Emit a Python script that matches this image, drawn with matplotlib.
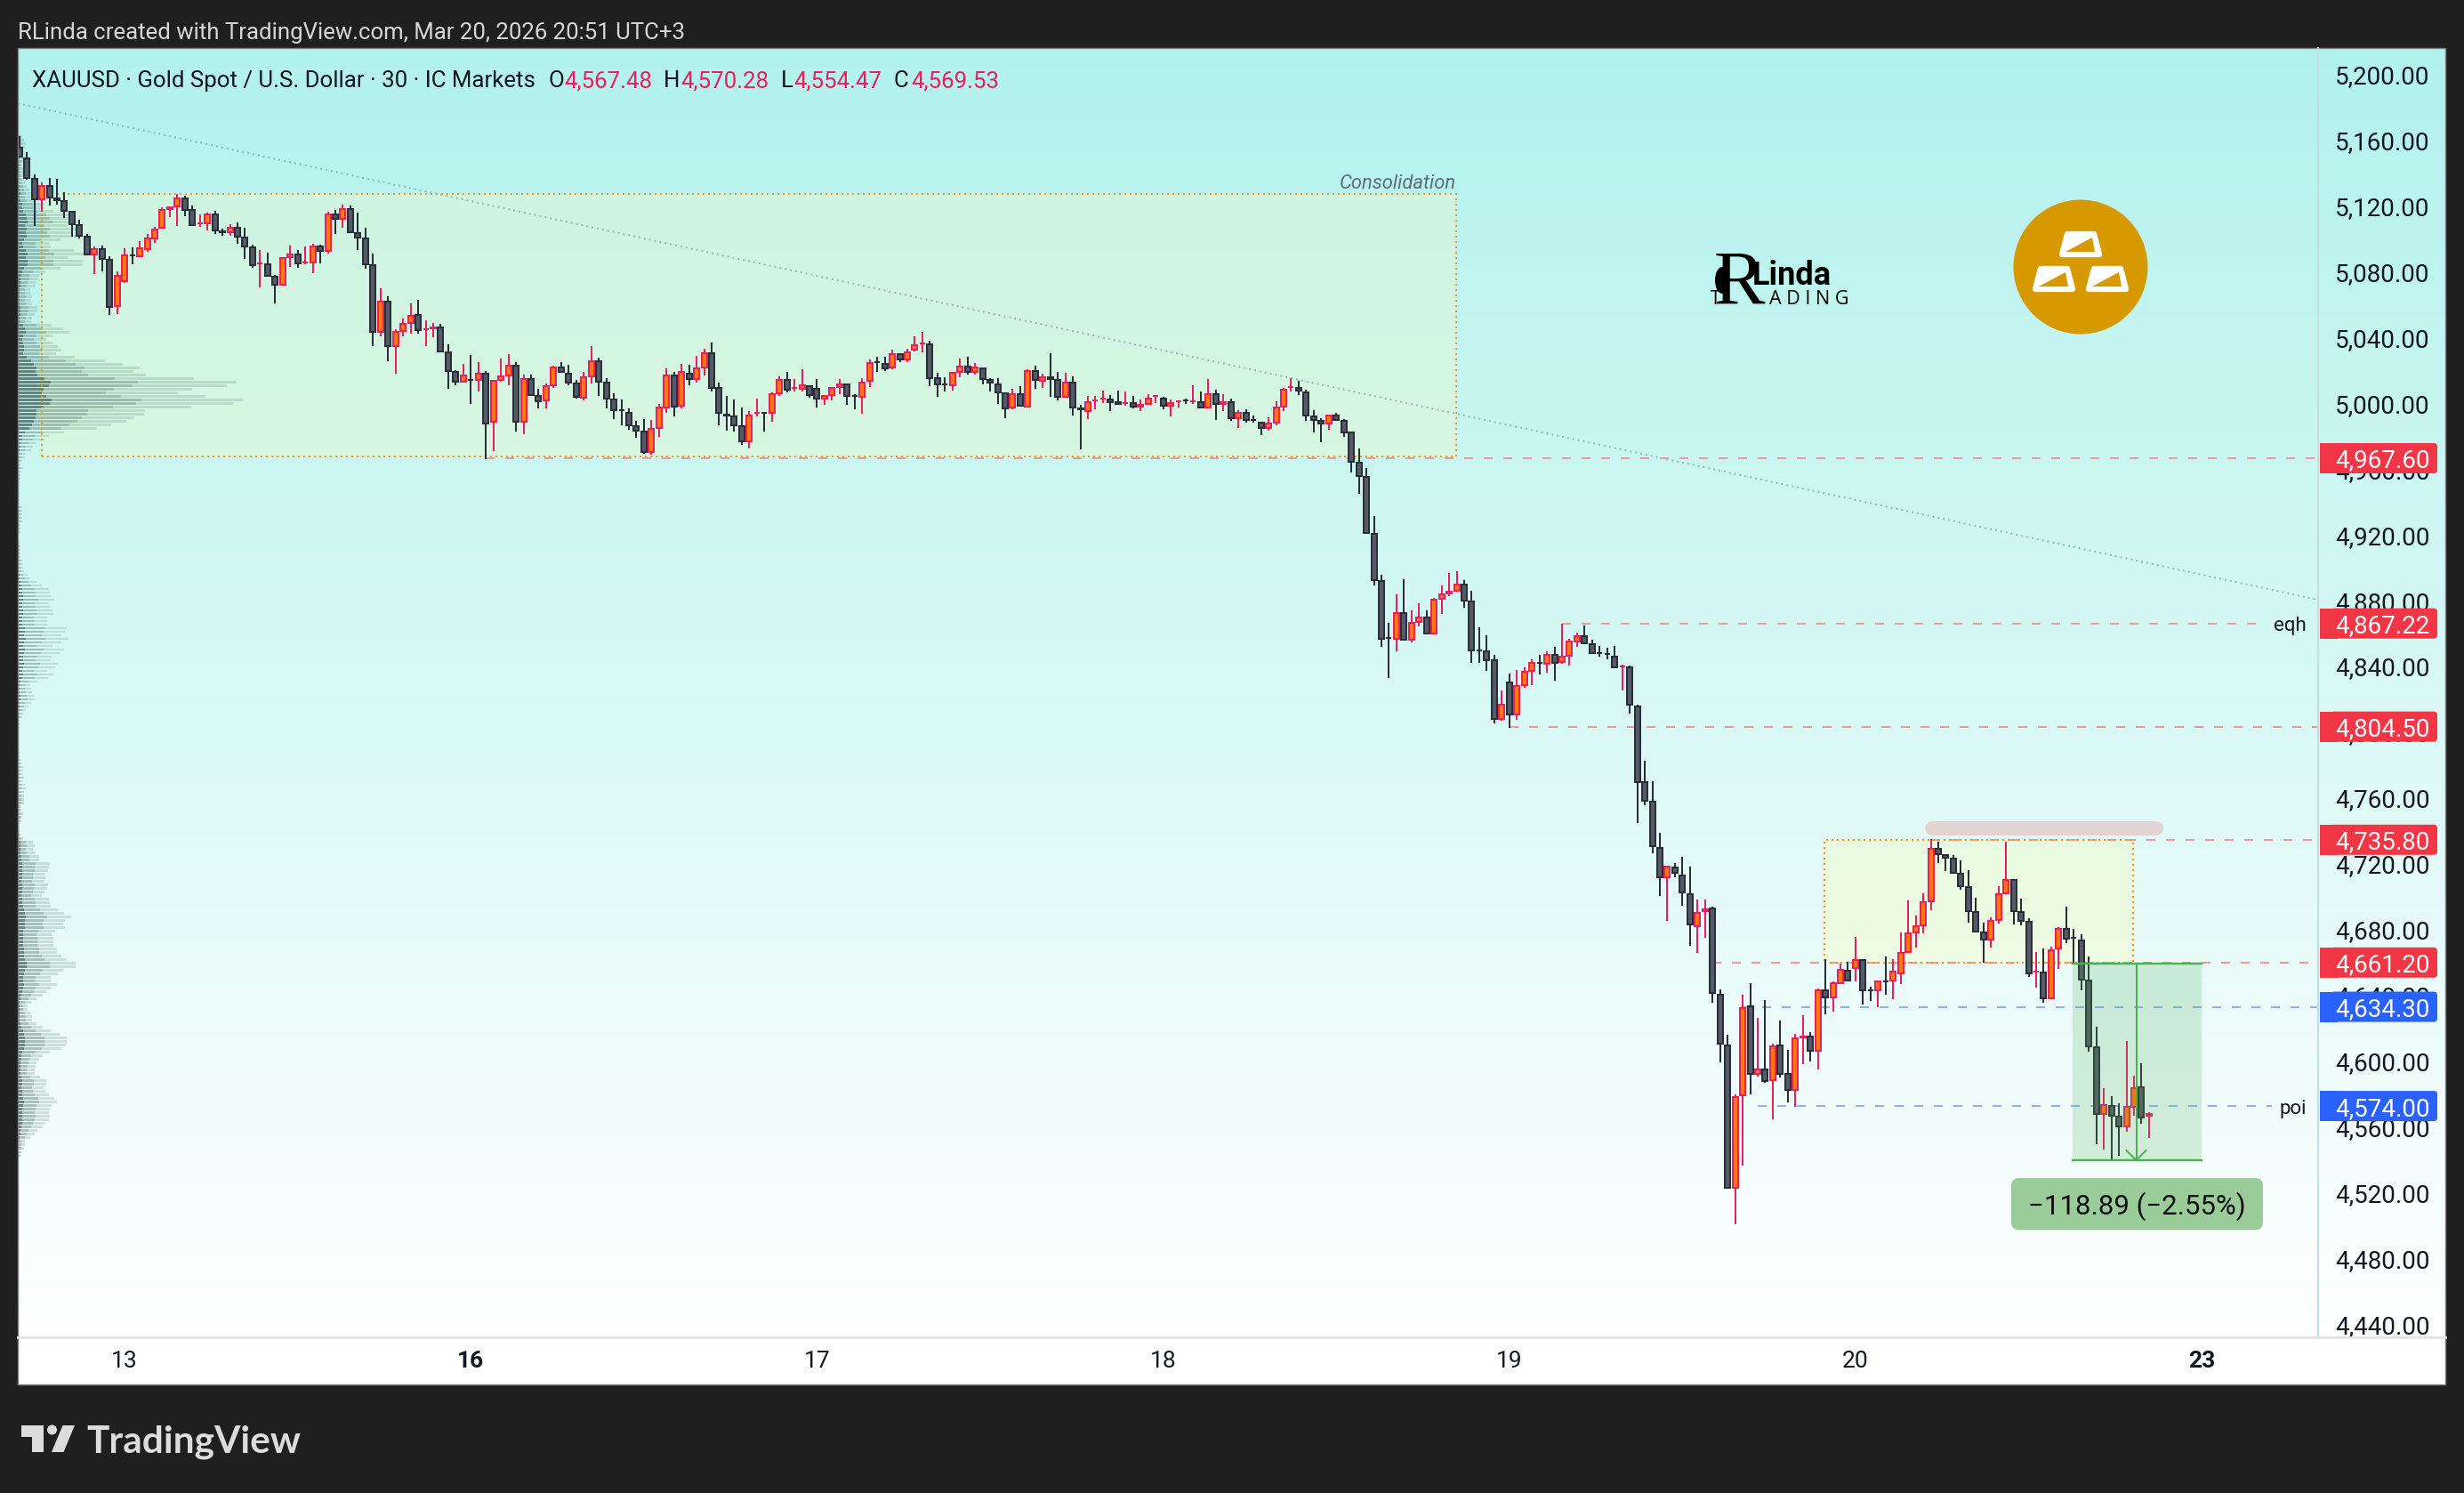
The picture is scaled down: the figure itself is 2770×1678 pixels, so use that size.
import numpy as np
import matplotlib
matplotlib.use("Agg")
import matplotlib.pyplot as plt
from matplotlib.patches import Rectangle, FancyBboxPatch, Polygon, Circle, Ellipse
from matplotlib.transforms import ScaledTranslation

plt.rcParams['font.family'] = ['Roboto', 'DejaVu Sans']

# 30 min candles
opens = [5156.8,5150.1,5137.8,5124.5,5133.5,5126.0,5124.3,5117.8,5109.7,5102.7,
5090.8,5095.1,5088.6,5059.5,5074.6,5091.3,5089.7,5094.0,5100.5,5107.0,
5118.4,5120.0,5126.0,5118.9,5109.7,5109.7,5116.2,5106.0,5104.3,5108.1,
5102.2,5096.2,5085.4,5086.0,5078.4,5072.4,5089.2,5091.9,5086.0,5086.0,
5096.8,5093.0,5116.2,5112.4,5119.5,5104.9,5101.6,5085.4,5043.8,5063.2,
5035.1,5044.3,5049.2,5055.1,5045.4,5046.0,5047.6,5032.4,5020.5,5013.5,
5015.7,5014.6,5019.5,4989.2,5014.6,5017.3,5024.3,4989.2,5016.2,5005.9,
5002.2,5011.4,5023.2,5019.5,5013.5,5003.8,5016.8,5027.0,5014.1,5003.8,
4997.3,4995.7,4987.6,4984.3,4970.8,4985.4,4997.8,5018.4,4998.9,5019.5,
5015.1,5022.2,5031.9,5010.8,4994.6,4993.5,4987.6,4977.3,4994.6,4995.7,
4994.6,5006.5,5015.7,5009.7,5009.2,5011.9,5010.3,5003.2,5005.4,5010.3,
5013.0,5005.9,5004.3,5014.1,5026.5,5025.4,5022.2,5031.4,5027.0,5033.0,
5036.8,5037.3,5016.8,5013.0,5011.4,5019.5,5023.8,5019.5,5022.7,5015.7,
5013.0,5007.6,4997.8,5007.0,4998.4,5021.1,5014.1,5017.3,5015.7,5004.3,
5014.1,4998.4,4995.7,5002.2,5003.2,5003.8,5002.2,5000.5,5001.6,4998.4,
5000.0,5004.9,5004.3,4998.9,5001.6,5002.7,5001.6,5002.2,4997.8,5007.0,
5000.0,5002.2,4991.4,4995.7,4991.4,4989.7,4985.4,4988.7,4998.4,5010.3,
5010.8,5008.1,4993.5,4990.8,4988.1,4994.1,4990.8,4983.8,4965.4,4956.8,
4922.2,4893.5,4858.9,4857.3,4874.1,4856.8,4867.6,4871.3,4860.5,4881.6,
4884.9,4886.5,4891.3,4881.1,4851.4,4850.8,4845.4,4808.6,4831.9,4811.4,
4829.2,4837.8,4843.8,4842.2,4848.7,4843.2,4847.0,4855.7,4860.0,4855.1,
4849.7,4848.7,4847.6,4840.5,4841.1,4817.3,4771.4,4759.5,4731.5,4712.5,
4719.5,4714.6,4703.2,4682.7,4691.9,4694.6,4642.0,4611.4,4523.8,4580.0,
4635.1,4593.0,4596.8,4589.2,4611.4,4594.0,4583.2,4615.1,4616.8,4607.0,
4644.9,4639.5,4648.1,4656.8,4657.3,4663.2,4644.9,4643.8,4650.3,4649.7,
4654.1,4667.0,4678.9,4683.2,4697.8,4730.8,4727.0,4724.9,4715.7,4707.6,
4692.4,4680.0,4674.6,4686.5,4702.7,4711.9,4692.4,4686.5,4655.1,4655.7,
4638.9,4669.2,4682.2,4676.8,4675.1,4650.8,4610.3,4568.7,4574.6,4568.1,
4561.1,4573.0,4586.0,4567.48]
highs = [5163.1,5153.5,5140.0,5135.1,5137.8,5137.3,5129.2,5117.8,5112.4,5103.8,
5096.2,5096.8,5090.3,5081.1,5095.1,5095.7,5099.5,5103.8,5108.1,5120.0,
5120.5,5128.1,5127.0,5121.1,5115.7,5116.8,5117.8,5107.0,5109.7,5110.8,
5107.6,5097.3,5094.0,5092.4,5078.9,5089.7,5096.8,5094.0,5096.2,5097.8,
5097.3,5117.3,5118.4,5121.6,5121.1,5116.8,5107.6,5091.9,5070.8,5066.0,
5046.0,5052.4,5061.6,5063.8,5051.4,5049.7,5049.2,5036.8,5021.1,5024.9,
5030.3,5026.0,5020.5,5015.1,5028.1,5030.8,5026.0,5018.4,5018.4,5009.7,
5013.0,5023.8,5026.0,5024.3,5015.1,5020.0,5035.7,5028.7,5016.2,5007.0,
5003.2,4997.8,4990.3,4991.4,4990.8,5000.5,5022.2,5020.0,5024.9,5024.3,
5029.7,5034.1,5037.8,5013.5,5005.4,5003.2,4998.4,4996.2,5003.8,4995.7,
5007.6,5017.3,5020.0,5015.7,5021.6,5011.9,5015.7,5005.9,5010.8,5015.7,
5013.0,5006.5,5016.2,5027.6,5029.2,5029.2,5033.5,5031.4,5034.1,5041.6,
5044.3,5038.9,5019.5,5016.8,5020.0,5028.1,5029.2,5025.4,5022.7,5016.2,
5016.2,5007.6,5009.7,5011.4,5021.6,5023.8,5018.9,5031.4,5020.0,5019.5,
5017.3,5000.0,5005.4,5005.4,5008.7,5005.9,5008.7,5008.1,5005.4,5003.2,
5006.5,5005.9,5004.9,5003.2,5002.7,5003.8,5011.9,5008.1,5015.7,5009.2,
5006.5,5003.8,4996.8,4997.3,4993.5,4989.7,4992.4,5002.2,5010.3,5016.2,
5014.6,5009.2,4996.8,4991.9,4994.0,4995.1,4991.3,4983.8,4973.5,4961.6,
4932.4,4896.8,4867.6,4884.9,4894.0,4875.1,4879.5,4875.1,4882.7,4890.3,
4897.8,4898.9,4893.5,4887.0,4864.9,4860.0,4848.1,4826.5,4836.8,4838.9,
4840.5,4845.4,4848.1,4850.3,4853.0,4867.0,4857.8,4861.6,4865.9,4857.3,
4853.5,4852.4,4853.5,4842.2,4841.6,4817.8,4783.8,4771.4,4740.2,4720.0,
4721.6,4725.4,4719.5,4699.5,4699.5,4695.1,4644.9,4617.3,4581.1,4641.6,
4648.6,4627.6,4638.4,4611.9,4626.0,4608.1,4617.8,4629.2,4618.9,4645.4,
4663.2,4649.7,4660.5,4661.6,4676.8,4663.2,4646.5,4650.3,4664.9,4663.2,
4679.5,4698.9,4689.7,4703.2,4736.0,4734.6,4727.0,4726.5,4723.2,4717.3,
4700.5,4685.4,4688.7,4707.6,4734.6,4711.9,4700.0,4688.1,4667.6,4669.7,
4670.8,4682.7,4695.1,4681.6,4678.4,4664.9,4622.2,4584.9,4580.0,4575.7,
4613.5,4592.4,4600.0,4570.28]
lows = [5150.1,5136.9,5108.6,5117.6,5121.1,5121.6,5113.5,5102.2,5101.1,5090.8,
5079.5,5081.1,5054.6,5055.1,5074.0,5085.4,5089.7,5093.0,5098.4,5107.0,
5114.0,5108.6,5114.6,5108.6,5108.1,5106.0,5103.8,5102.7,5102.7,5097.8,
5088.6,5083.2,5071.3,5077.8,5061.6,5072.4,5083.8,5083.2,5085.4,5080.0,
5086.0,5091.9,5103.8,5107.6,5104.3,5094.0,5082.7,5035.7,5041.6,5026.5,
5018.9,5041.6,5043.2,5043.2,5035.7,5041.1,5031.9,5009.7,5011.9,5013.5,
5000.5,5008.1,4967.0,4971.9,5014.1,5011.9,4983.8,4982.2,5005.4,4997.8,
4997.8,5010.3,5019.5,5011.9,5003.8,5002.7,5013.0,5005.4,4997.8,4991.3,
4987.6,4984.9,4980.0,4970.3,4969.7,4980.5,4995.1,4993.0,4997.8,5011.9,
5013.5,5017.8,5008.1,4987.6,4984.3,4983.8,4975.7,4973.5,4993.0,4983.8,
4989.7,5005.4,5007.6,5008.1,5008.1,5004.3,4998.4,5000.0,5002.7,5006.5,
5000.0,4997.3,4994.6,5010.8,5020.0,5020.5,5021.6,5026.0,5026.0,5032.4,
5031.9,5011.4,5004.9,5008.1,5008.7,5016.8,5018.4,5018.4,5012.4,5008.1,
5000.5,4991.9,4997.3,4998.9,4998.4,5009.7,5010.3,5004.9,5002.7,5004.3,
4993.5,4973.0,4991.4,4997.3,5001.1,4996.2,5000.0,4999.5,4997.8,4996.2,
5000.0,5001.1,4997.3,4993.0,4998.4,5000.5,5000.5,4997.8,4997.8,4990.8,
4996.2,4990.3,4986.0,4989.2,4989.2,4981.6,4984.3,4987.6,4996.2,5008.1,
5005.9,4990.3,4983.3,4977.3,4984.9,4990.3,4980.5,4958.9,4945.9,4921.6,
4890.3,4853.0,4834.1,4850.3,4856.8,4855.7,4865.4,4860.5,4860.5,4873.0,
4883.8,4886.5,4876.8,4843.2,4843.2,4838.4,4806.5,4808.1,4803.8,4808.6,
4828.1,4829.7,4836.2,4837.3,4832.4,4842.7,4841.6,4853.0,4854.6,4848.7,
4847.0,4845.4,4840.0,4826.5,4812.4,4745.9,4756.8,4727.6,4701.6,4686.5,
4713.0,4695.7,4671.6,4667.0,4676.4,4636.8,4600.5,4523.8,4502.2,4537.8,
4581.1,4591.9,4588.1,4566.0,4591.4,4576.2,4573.5,4599.5,4601.1,4596.2,
4629.7,4631.4,4648.1,4649.7,4649.7,4635.7,4637.8,4634.0,4641.6,4638.9,
4648.1,4667.0,4670.3,4678.9,4693.0,4721.6,4716.8,4715.1,4705.4,4685.4,
4679.5,4661.1,4670.3,4684.9,4702.7,4684.3,4683.8,4652.4,4645.9,4636.8,
4638.9,4657.3,4673.0,4661.1,4644.3,4607.0,4550.8,4547.6,4541.1,4543.8,
4558.4,4568.1,4563.2,4554.47]
closes = [5150.1,5137.5,5124.5,5133.5,5125.6,5123.8,5117.3,5109.4,5102.2,5090.8,
5095.1,5088.1,5058.9,5078.9,5091.3,5090.3,5095.7,5101.6,5107.0,5118.9,
5120.5,5126.0,5117.8,5108.6,5110.8,5116.2,5105.4,5104.3,5108.1,5101.6,
5095.7,5084.3,5086.5,5077.8,5072.4,5089.7,5091.9,5085.4,5087.0,5096.8,
5093.0,5116.2,5112.4,5119.5,5104.3,5101.1,5084.9,5043.8,5063.2,5035.1,
5044.9,5049.7,5054.6,5044.9,5046.5,5047.6,5031.9,5020.0,5013.5,5018.4,
5014.6,5019.5,4988.1,5015.1,5017.8,5024.3,4989.2,5016.2,5005.4,5001.6,
5011.9,5023.2,5019.5,5013.0,5004.3,5017.3,5027.0,5013.5,5003.2,4996.2,
4996.2,4987.0,4983.8,4970.8,4985.9,4998.9,5018.4,4998.4,5020.5,5015.1,
5022.7,5031.9,5009.7,4994.6,4993.0,4987.0,4977.3,4994.0,4995.7,4994.6,
5007.0,5015.7,5008.7,5010.8,5012.4,5005.4,5003.2,5005.9,5010.8,5013.0,
5004.9,5004.9,5014.1,5026.0,5025.4,5021.6,5031.4,5027.0,5032.4,5036.8,
5037.8,5015.7,5011.9,5011.9,5020.0,5023.8,5019.5,5023.2,5015.1,5013.0,
5007.0,4997.3,5007.0,4998.9,5021.1,5014.6,5017.3,5015.1,5004.3,5014.1,
4997.8,4996.8,5002.2,5003.2,5004.3,5001.1,5000.0,5001.6,4998.4,5000.5,
5004.3,5005.9,4998.9,5001.6,5002.7,5002.2,5002.7,4997.8,5007.0,5000.0,
5002.2,4991.4,4995.7,4990.3,4990.3,4985.4,4989.2,4998.9,5009.7,5011.4,
5008.1,4993.0,4990.3,4988.1,4994.0,4990.3,4982.7,4964.9,4956.2,4921.6,
4893.0,4857.3,4857.8,4874.1,4856.8,4868.1,4871.3,4860.5,4882.2,4885.4,
4887.0,4891.3,4880.5,4850.3,4850.3,4844.3,4808.6,4818.4,4811.4,4829.7,
4838.4,4843.8,4842.7,4848.7,4842.7,4847.6,4856.8,4860.0,4854.6,4848.7,
4848.7,4848.1,4840.0,4841.6,4817.3,4770.3,4758.9,4731.5,4712.5,4720.0,
4715.1,4703.2,4683.8,4691.9,4694.2,4642.0,4611.4,4523.8,4580.0,4634.0,
4593.0,4596.8,4588.6,4610.8,4593.0,4583.2,4615.7,4616.8,4607.0,4644.9,
4639.5,4649.2,4657.3,4649.7,4663.2,4643.8,4643.8,4650.3,4649.2,4656.2,
4667.6,4679.5,4683.8,4698.4,4730.8,4726.5,4724.3,4715.1,4707.0,4691.9,
4679.5,4674.6,4687.0,4703.2,4711.9,4691.9,4685.9,4654.1,4656.2,4638.9,
4669.2,4682.2,4675.1,4675.7,4650.3,4609.7,4568.7,4575.1,4567.6,4561.1,
4574.0,4585.4,4566.5,4569.53]

# volume profile, one row per price level from the top down
profile_top = 5163.1
profile_step = 2.165
profile_vol = [5,7,9,8,5,5,6,7,5,6,6,7,7,8,10,13,17,15,18,30,30,40,59,65,70,55,65,60,65,48,36,37,63,74,57,73,73,48,31,24,23,20,
19,14,15,16,15,16,22,22,19,16,15,38,51,58,39,32,39,45,49,43,64,98,118,137,130,144,198,246,235,196,180,211,253,242,195,143,142,130,122,105,
89,52,35,30,21,17,15,9,8,5,3,6,4,3,3,2,2,2,2,2,2,
2,5,5,5,5,5,3,3,3,1,1,2,3,3,3,3,5,6,6,7,11,14,21,27,35,36,37,41,35,36,39,40,33,33,33,55,53,49,57,49,39,52,48,38,37,45,42,33,40,34,
22,14,15,16,18,20,15,12,9,6,5,2,2,2,2,1,1,2,2,2,2,2,4,5,6,6,6,7,6,8,9,7,7,7,7,3,4,6,5,4,2,2,2,3,6,17,19,17,19,24,24,
36,35,34,30,31,29,34,33,30,27,35,36,37,45,52,60,53,51,53,42,38,40,40,40,44,44,49,54,65,65,51,45,37,37,44,37,32,28,21,15,
11,11,14,16,16,21,28,37,47,55,55,54,49,36,28,24,21,20,19,19,25,32,32,29,31,35,41,44,38,36,35,36,35,31,28,22,19,14,8,8,7,5,4,1]

price_ticks = list(range(4440, 5201, 40))
day_ticks = [14, 60, 106, 152, 198, 244, 290]
day_labels = ['13', '16', '17', '18', '19', '20', '23']
bold_days = ['16', '23']

red_levels = [4967.60, 4867.22, 4804.50, 4735.80, 4661.20]
red_starts = [62, 205, 198, 254, 225]
blue_levels = [4634.30, 4574.00]
blue_starts = [229, 231]

W, H = 2770, 1678
PX, PR, PT, PB = 20, 2606, 54, 1503   # plot area
PANEL_R, PANEL_B = 2749, 1556

fig = plt.figure(figsize=(W / 100, H / 100), dpi=100, facecolor='#1f1f1f')

def box(x0, y0, x1, y1):
    return [x0 / W, 1 - y1 / H, (x1 - x0) / W, (y1 - y0) / H]

# background
bg = fig.add_axes(box(PX, PT, PANEL_R, PANEL_B), zorder=0)
bg.axis('off')
grad = np.linspace(0, 1, 400).reshape(-1, 1, 1)
top_col = np.array([178, 242, 237]) / 255
grad_img = top_col * (1 - grad) + np.ones(3) * grad
bg.imshow(grad_img, extent=[PX, PANEL_R, PB, PT], aspect='auto', zorder=0)
bg.add_patch(Rectangle((PX, PB), PANEL_R - PX, PANEL_B - PB, color='white', zorder=1))
bg.set_xlim(PX, PANEL_R)
bg.set_ylim(PANEL_B, PT)

# main chart
ax = fig.add_axes(box(PX, PT, PR, PB), zorder=1)
ax.patch.set_alpha(0)
ax.set_xlim(-0.2, 305.47)
ax.set_ylim(4433.5, 5216.8)
for s in ax.spines.values():
    s.set_visible(False)
ax.yaxis.tick_right()
ax.set_yticks(price_ticks)
ax.set_yticklabels([f'{v:,.2f}' for v in price_ticks], fontsize=20, color='#131722')
ax.set_xticks(day_ticks)
ax.set_xticklabels(day_labels, fontsize=19, color='#131722')
for lab in ax.get_xticklabels():
    if lab.get_text() in bold_days:
        lab.set_fontweight('bold')
ax.tick_params(axis='y', length=0, pad=13.5)
ax.tick_params(axis='x', length=0, pad=11)
nudge = ScaledTranslation(0, 2 / 100, fig.dpi_scale_trans)
for lab in ax.get_yticklabels():
    lab.set_transform(lab.get_transform() + nudge)

span = ax.get_xlim()[1] - ax.get_xlim()[0]
bar_px = (PR - PX) / span     # pixels for one bar
lw2 = 1.44                    # 2 px line

# volume profile
levels = profile_top - profile_step * np.arange(len(profile_vol))
vol = np.array(profile_vol) / bar_px
x0 = ax.get_xlim()[0]
row_h = 1.35
ax.barh(levels, vol, left=x0, height=row_h, color='#7f9c93', alpha=0.3, lw=0, zorder=1.2)
ax.barh(levels, vol * 0.55, left=x0, height=row_h, color='#6f8f85', alpha=0.38, lw=0, zorder=1.3)
ax.barh(levels, vol * 0.15, left=x0, height=row_h, color='#3f5f5c', alpha=0.6, lw=0, zorder=1.4)

# zones
ax.add_patch(Rectangle((3.0, 4968.6), 187.9, 159.5, facecolor='#fafabf', alpha=0.3, lw=0, zorder=1.1))
ax.add_patch(Rectangle((3.0, 4968.6), 187.9, 159.5, fill=False, edgecolor='#ff9800', lw=lw2,
                       linestyle=(0, (1, 2)), zorder=1.6))
ax.add_patch(Rectangle((239.9, 4661.1), 41.0, 74.5, facecolor='#ffffa0', alpha=0.25, lw=0, zorder=1.1))
ax.add_patch(Rectangle((239.9, 4661.1), 41.0, 74.5, fill=False, edgecolor='#ff9800', lw=lw2,
                       linestyle=(0, (1, 2)), zorder=2.3))
ax.plot([254.2, 283.9], [4742.7, 4742.7], color='#e3d3d5', lw=11.5, solid_capstyle='round', zorder=1.5)

# trend line
ax.plot([-0.2, 305.47], [5183.2, 4881.6], color='#5f8a8b', alpha=0.55, lw=lw2,
        linestyle=(0, (1, 2)), zorder=1.5)

# price lines
for lev, st in zip(red_levels, red_starts):
    end = 297.5 if lev == 4867.22 else 305.47
    ax.plot([st, end], [lev, lev], color='#ea98a1', lw=lw2, linestyle=(0, (5, 6)), zorder=1.7, snap=True)
for lev, st in zip(blue_levels, blue_starts):
    end = 299.3 if lev == 4574.00 else 305.47
    ax.plot([st, end], [lev, lev], color='#8fb1fb', lw=lw2, linestyle=(0, (5, 6)), zorder=1.7, snap=True)

# candles
o = np.array(opens)
h = np.array(highs)
l = np.array(lows)
c = np.array(closes)
x = np.arange(len(o))
up = c >= o
inset = 0.54
for mask, edge, fill in [(up, '#e91e63', '#ff7a00'), (~up, '#2a2e39', '#555a67')]:
    ax.vlines(x[mask], l[mask], h[mask], color=edge, lw=lw2, zorder=3)
    tops = np.maximum(o[mask], c[mask]) - inset
    bots = np.minimum(o[mask], c[mask]) + inset
    ax.bar(x[mask], np.maximum(tops - bots, 0), bottom=bots, width=6 / bar_px,
           color=fill, edgecolor=edge, linewidth=lw2, zorder=3.2)

# forecast box sits over the candles
ax.add_patch(Rectangle((272.8, 4541.1), 17.2, 119.5, facecolor='#4caf50', alpha=0.2, lw=0, zorder=4))
ax.plot([272.8, 290], [4660.6, 4660.6], color='#4caf50', lw=lw2 * 1.2, zorder=4.1)
ax.plot([272.8, 290], [4541.1, 4541.1], color='#4caf50', lw=lw2 * 1.2, zorder=4.1)
ax.plot([281.3, 281.3], [4660.6, 4541.1], color='#4caf50', lw=lw2, zorder=4.1)
ax.plot([280.0, 281.3, 282.6], [4547.0, 4541.1, 4547.0], color='#4caf50', lw=lw2, zorder=4.1)

# overlay in image pixels for tags, logos and header text
ov = fig.add_axes([0, 0, 1, 1], zorder=2)
ov.patch.set_alpha(0)
ov.set_xlim(0, W)
ov.set_ylim(H, 0)
ov.axis('off')

def py(p):
    return ov.transData.inverted().transform(ax.transData.transform((0, p)))[1]

# axis separators and panel frame
ov.plot([PR, PR], [PT, PB], color='#c4dfdf', lw=1.6)
ov.plot([PX, PANEL_R], [PB, PB], color='#e2e3e5', lw=2)
ov.add_patch(Rectangle((PX, PT), PANEL_R - PX, PANEL_B - PT, fill=False, edgecolor='#7d7d7d', lw=1))

def tag(p, col):
    y = py(p)
    ov.add_patch(FancyBboxPatch((2620, y - 17), 120, 34, boxstyle='round,pad=0,rounding_size=4',
                                facecolor=col, edgecolor=col, lw=0))
    ov.add_patch(Rectangle((2608, y - 17), 20, 34, facecolor=col, lw=0))
    ov.text(2625, y, f'{p:,.2f}', color='white', fontsize=20, va='center_baseline', ha='left')

for p in red_levels:
    tag(p, '#f23645')
for p in blue_levels:
    tag(p, '#2962ff')

ov.text(2593, py(4867.22) + 3, 'eqh', ha='right', va='center', fontsize=16, color='#131722')
ov.text(2593, py(4574.00) + 3, 'poi', ha='right', va='center', fontsize=16, color='#131722')
ov.text(1637, 206, 'Consolidation', ha='right', va='center', fontsize=15.8, style='italic', color='#5a6f78')

# delta label
ov.add_patch(FancyBboxPatch((2263, 1327), 279, 54, boxstyle='round,pad=2,rounding_size=9',
                            facecolor='#8a8a8a', edgecolor='none', alpha=0.25))
ov.add_patch(FancyBboxPatch((2263, 1326), 279, 54, boxstyle='round,pad=2,rounding_size=9',
                            facecolor='#99cc99', edgecolor='none'))
ov.text(2402, 1356, '\u2212118.89 (\u22122.55%)', ha='center', va='center', fontsize=22.5, color='#0d0d0d')

# gold badge
ov.add_patch(Circle((2339, 300), 75.5, color='#d69a00', lw=0))
for dx, dy in [(0, 0), (-30, 39), (30, 39)]:
    pts = [(2324 + dx, 263 + dy), (2354 + dx, 263 + dy), (2360 + dx, 286 + dy), (2318 + dx, 286 + dy)]
    ov.add_patch(Polygon(pts, closed=True, facecolor='white', edgecolor='white', lw=4.5, joinstyle='round'))
    ov.add_patch(Polygon([(2322 + dx, 283 + dy), (2355 + dx, 283 + dy), (2352 + dx, 267 + dy)],
                         closed=True, facecolor='#d69a00', lw=0))

# RLinda logo
ov.text(1927, 342, 'R', fontsize=62, family='Liberation Serif', color='black', va='baseline', ha='left')
ov.add_patch(Ellipse((1936, 315), 16, 30, color='black', lw=0))
ov.text(1970, 320, 'Linda', fontsize=26, fontweight='bold', color='black', va='baseline', ha='left')
ov.text(1923, 342, 'T', fontsize=15, family='Open Sans', color='black', va='baseline', ha='left')
ov.text(1989, 342, 'A D I N G', fontsize=15.5, family='Open Sans', color='black', va='baseline', ha='left')

# header text
ov.text(20, 37, 'RLinda created with TradingView.com, Mar 20, 2026 20:51 UTC+3', color='#d6d6d6',
        fontsize=18.5, va='center', ha='left')
ov.text(36, 91, 'XAUUSD \u00b7 Gold Spot / U.S. Dollar \u00b7 30 \u00b7 IC Markets', color='#131722',
        fontsize=18.6, va='center', ha='left')
for lab, lx, val, vx in [('O', 616, '4,567.48', 634), ('H', 746, '4,570.28', 765),
                         ('L', 878, '4,554.47', 892), ('C', 1005, '4,569.53', 1024)]:
    ov.text(lx, 91, lab, color='#131722', fontsize=18.6, va='center', ha='left')
    ov.text(vx, 91, val, color='#e91e63', fontsize=18.6, va='center', ha='left')

# TradingView footer
ov.add_patch(Polygon([(24, 1602), (48.5, 1602), (48.5, 1632), (36, 1632), (36, 1615), (24, 1615)],
                     closed=True, color='#dcdcdc', lw=0))
ov.add_patch(Circle((58.5, 1607), 5.5, color='#dcdcdc', lw=0))
ov.add_patch(Polygon([(84, 1602), (71.5, 1632), (58, 1632), (70.5, 1602)], closed=True, color='#dcdcdc', lw=0))
ov.text(97, 1632, 'TradingView', color='#dcdcdc', fontsize=30.5, family='Lato', fontweight='bold',
        va='baseline', ha='left')

fig.savefig('out.png', dpi=100, facecolor=fig.get_facecolor())
